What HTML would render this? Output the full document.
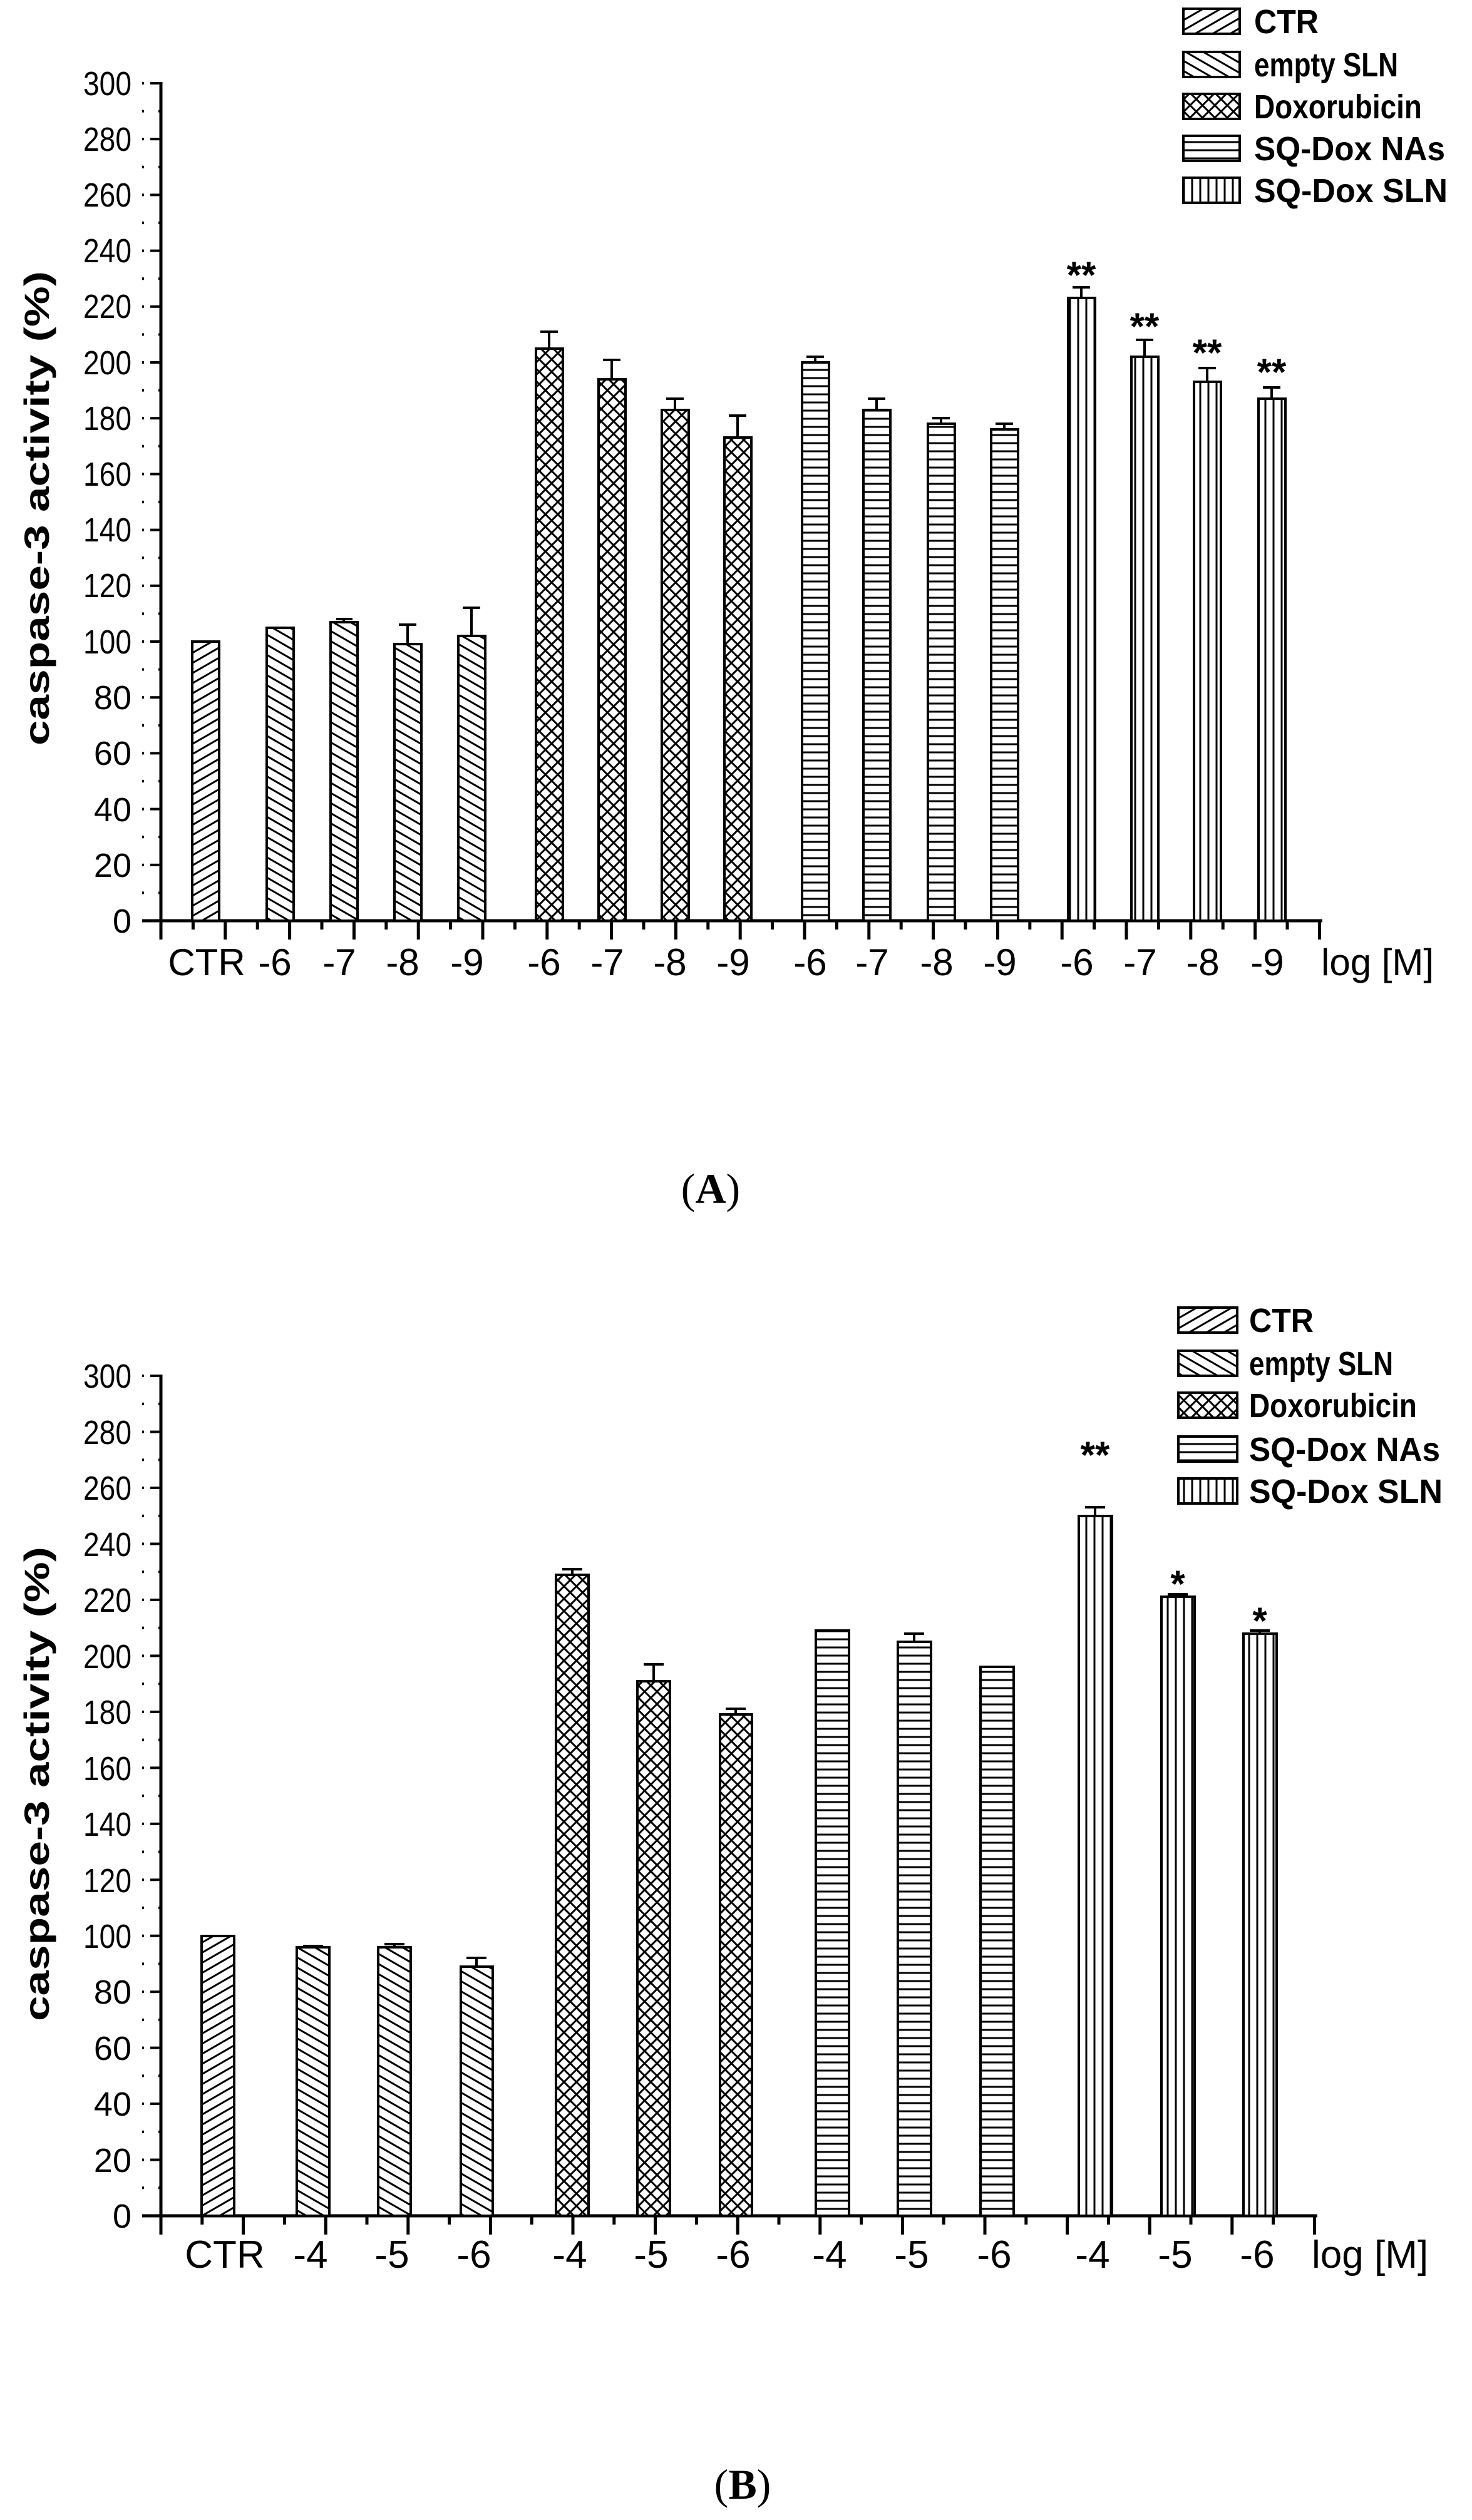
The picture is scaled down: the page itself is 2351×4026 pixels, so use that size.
<!DOCTYPE html>
<html><head><meta charset="utf-8"><style>html,body{margin:0;padding:0;background:#fff}svg{display:block}</style></head>
<body>
<svg width="2351" height="4026" viewBox="0 0 2351 4026" xmlns="http://www.w3.org/2000/svg" font-family="Liberation Sans, Arial, sans-serif">
<defs>
<pattern id="p1" patternUnits="userSpaceOnUse" width="14" height="14" patternTransform="rotate(-30)"><rect width="14" height="14" fill="#fff"/><line x1="0" y1="7" x2="14" y2="7" stroke="#000" stroke-width="3"/></pattern>
<pattern id="p2" patternUnits="userSpaceOnUse" width="14" height="14" patternTransform="rotate(30)"><rect width="14" height="14" fill="#fff"/><line x1="0" y1="7" x2="14" y2="7" stroke="#000" stroke-width="3"/></pattern>
<pattern id="p3" patternUnits="userSpaceOnUse" width="14" height="14" patternTransform="rotate(45)"><rect width="14" height="14" fill="#fff"/><line x1="0" y1="7" x2="14" y2="7" stroke="#000" stroke-width="3"/><line x1="7" y1="0" x2="7" y2="14" stroke="#000" stroke-width="3"/></pattern>
<pattern id="p4" patternUnits="userSpaceOnUse" width="14" height="13"><rect width="14" height="13" fill="#fff"/><line x1="0" y1="6" x2="14" y2="6" stroke="#000" stroke-width="3"/></pattern>
<pattern id="p5" patternUnits="userSpaceOnUse" width="13" height="14"><rect width="13" height="14" fill="#fff"/><line x1="6" y1="0" x2="6" y2="14" stroke="#000" stroke-width="3"/></pattern>
<pattern id="yA" patternUnits="userSpaceOnUse" x="0" y="1471" width="40" height="89.2"><line x1="0" y1="0" x2="30" y2="0" stroke="#000" stroke-width="4"/><line x1="13" y1="44.6" x2="30" y2="44.6" stroke="#000" stroke-width="4"/><line x1="0" y1="89.2" x2="30" y2="89.2" stroke="#000" stroke-width="4"/></pattern>
<pattern id="yB" patternUnits="userSpaceOnUse" x="0" y="3540" width="40" height="89.46"><line x1="0" y1="0" x2="30" y2="0" stroke="#000" stroke-width="4"/><line x1="13" y1="44.73" x2="30" y2="44.73" stroke="#000" stroke-width="4"/><line x1="0" y1="89.46" x2="30" y2="89.46" stroke="#000" stroke-width="4"/></pattern>
<pattern id="xA" patternUnits="userSpaceOnUse" x="257" y="0" width="102.8" height="40"><line x1="0" y1="0" x2="0" y2="30" stroke="#000" stroke-width="5"/><line x1="51.4" y1="0" x2="51.4" y2="14" stroke="#000" stroke-width="5"/><line x1="102.8" y1="0" x2="102.8" y2="30" stroke="#000" stroke-width="5"/></pattern>
<pattern id="xB" patternUnits="userSpaceOnUse" x="257" y="0" width="131.6" height="40"><line x1="0" y1="0" x2="0" y2="30" stroke="#000" stroke-width="5"/><line x1="65.8" y1="0" x2="65.8" y2="14" stroke="#000" stroke-width="5"/><line x1="131.6" y1="0" x2="131.6" y2="30" stroke="#000" stroke-width="5"/></pattern>
</defs>

<!-- ===== CHART A ===== -->
<rect x="227" y="131" width="30" height="1342" fill="url(#yA)"/>
<g transform="translate(0,1471)"><rect x="254" y="0" width="1858" height="32" fill="url(#xA)"/></g>
<line x1="257" y1="131" x2="257" y2="1474" stroke="#000" stroke-width="5"/>
<line x1="227" y1="1471" x2="2112" y2="1471" stroke="#000" stroke-width="5"/>
<g font-size="54" text-anchor="end">
<text x="210" y="1490">0</text><text x="210" y="1401">20</text><text x="210" y="1312">40</text><text x="210" y="1222">60</text><text x="210" y="1133">80</text>
<text x="210" y="1044" textLength="77" lengthAdjust="spacingAndGlyphs">100</text><text x="210" y="954" textLength="77" lengthAdjust="spacingAndGlyphs">120</text><text x="210" y="865" textLength="77" lengthAdjust="spacingAndGlyphs">140</text><text x="210" y="776" textLength="77" lengthAdjust="spacingAndGlyphs">160</text><text x="210" y="687" textLength="77" lengthAdjust="spacingAndGlyphs">180</text><text x="210" y="598" textLength="77" lengthAdjust="spacingAndGlyphs">200</text><text x="210" y="508" textLength="77" lengthAdjust="spacingAndGlyphs">220</text><text x="210" y="419" textLength="77" lengthAdjust="spacingAndGlyphs">240</text><text x="210" y="330" textLength="77" lengthAdjust="spacingAndGlyphs">260</text><text x="210" y="241" textLength="77" lengthAdjust="spacingAndGlyphs">280</text><text x="210" y="152" textLength="77" lengthAdjust="spacingAndGlyphs">300</text>
</g>
<text transform="translate(78,812) rotate(-90)" font-size="56" font-weight="bold" text-anchor="middle" textLength="758" lengthAdjust="spacingAndGlyphs">caspase-3 activity (%)</text>
<g stroke="#000" stroke-width="4">
<rect x="307" y="1025" width="43" height="446" fill="url(#p1)"/>
<rect x="426" y="1003" width="43" height="468" fill="url(#p2)"/>
<rect x="528" y="994" width="43" height="477" fill="url(#p2)"/>
<rect x="630" y="1029" width="43" height="442" fill="url(#p2)"/>
<rect x="732" y="1016" width="43" height="455" fill="url(#p2)"/>
<rect x="856" y="557" width="43" height="914" fill="url(#p3)"/>
<rect x="956" y="606" width="43" height="865" fill="url(#p3)"/>
<rect x="1057" y="655" width="43" height="816" fill="url(#p3)"/>
<rect x="1157" y="699" width="43" height="772" fill="url(#p3)"/>
<rect x="1281" y="579" width="43" height="892" fill="url(#p4)"/>
<rect x="1379" y="655" width="43" height="816" fill="url(#p4)"/>
<rect x="1482" y="677" width="43" height="794" fill="url(#p4)"/>
<rect x="1583" y="686" width="43" height="785" fill="url(#p4)"/>
<rect x="1706" y="476" width="43" height="995" fill="url(#p5)"/>
<rect x="1807" y="570" width="43" height="901" fill="url(#p5)"/>
<rect x="1907" y="610" width="43" height="861" fill="url(#p5)"/>
<rect x="2010" y="637" width="43" height="834" fill="url(#p5)"/>
<path fill="none" d="M549 994V989M537 989H563
M651 1029V998M637 998H665
M753 1016V971M739 971H767
M877 557V530M863 530H891
M977 606V575M963 575H991
M1078 655V637M1064 637H1092
M1178 699V664M1164 664H1192
M1302 579V570M1288 570H1316
M1400 655V637M1386 637H1414
M1503 677V668M1489 668H1517
M1604 686V677M1590 677H1618
M1727 476V459M1713 459H1741
M1828 570V543M1814 543H1842
M1928 610V588M1914 588H1942
M2031 637V619M2017 619H2045"/>
</g>
<g font-size="60" font-weight="bold" text-anchor="middle">
<text x="1727" y="460">**</text><text x="1828" y="542">**</text><text x="1928" y="584">**</text><text x="2031" y="615">**</text>
</g>
<g font-size="60" text-anchor="middle">
<text x="330" y="1558">CTR</text><text x="439" y="1558">-6</text><text x="542" y="1558">-7</text><text x="643" y="1558">-8</text><text x="746" y="1558">-9</text>
<text x="869" y="1558">-6</text><text x="970" y="1558">-7</text><text x="1070" y="1558">-8</text><text x="1171" y="1558">-9</text>
<text x="1294" y="1558">-6</text><text x="1393" y="1558">-7</text><text x="1496" y="1558">-8</text><text x="1597" y="1558">-9</text>
<text x="1720" y="1558">-6</text><text x="1821" y="1558">-7</text><text x="1921" y="1558">-8</text><text x="2024" y="1558">-9</text>
</g>
<text x="2110" y="1558" font-size="60">log [M]</text>
<g stroke="#000" stroke-width="4">
<rect x="1890" y="14" width="90" height="40" fill="url(#p1)"/>
<rect x="1890" y="83" width="90" height="40" fill="url(#p2)"/>
<rect x="1890" y="150" width="90" height="40" fill="url(#p3)"/>
<rect x="1890" y="217" width="90" height="40" fill="url(#p4)"/>
<rect x="1890" y="284" width="90" height="40" fill="url(#p5)"/>
</g>
<g font-size="54" font-weight="bold">
<text x="2003" y="53" textLength="103" lengthAdjust="spacingAndGlyphs">CTR</text>
<text x="2003" y="122" textLength="230" lengthAdjust="spacingAndGlyphs">empty SLN</text>
<text x="2003" y="189" textLength="268" lengthAdjust="spacingAndGlyphs">Doxorubicin</text>
<text x="2003" y="256" textLength="305" lengthAdjust="spacingAndGlyphs">SQ-Dox NAs</text>
<text x="2003" y="323" textLength="309" lengthAdjust="spacingAndGlyphs">SQ-Dox SLN</text>
</g>
<text x="1135" y="1922" font-size="68" font-family="Liberation Serif, serif" text-anchor="middle">(<tspan font-weight="bold">A</tspan>)</text>

<!-- ===== CHART B ===== -->
<rect x="227" y="2196" width="30" height="1346" fill="url(#yB)"/>
<g transform="translate(0,3540)"><rect x="254" y="0" width="1850" height="32" fill="url(#xB)"/></g>
<line x1="257" y1="2196" x2="257" y2="3543" stroke="#000" stroke-width="5"/>
<line x1="227" y1="3540" x2="2104" y2="3540" stroke="#000" stroke-width="5"/>
<g font-size="54" text-anchor="end">
<text x="210" y="3559">0</text><text x="210" y="3470">20</text><text x="210" y="3380">40</text><text x="210" y="3291">60</text><text x="210" y="3201">80</text>
<text x="210" y="3112" textLength="77" lengthAdjust="spacingAndGlyphs">100</text><text x="210" y="3023" textLength="77" lengthAdjust="spacingAndGlyphs">120</text><text x="210" y="2933" textLength="77" lengthAdjust="spacingAndGlyphs">140</text><text x="210" y="2844" textLength="77" lengthAdjust="spacingAndGlyphs">160</text><text x="210" y="2754" textLength="77" lengthAdjust="spacingAndGlyphs">180</text><text x="210" y="2665" textLength="77" lengthAdjust="spacingAndGlyphs">200</text><text x="210" y="2575" textLength="77" lengthAdjust="spacingAndGlyphs">220</text><text x="210" y="2486" textLength="77" lengthAdjust="spacingAndGlyphs">240</text><text x="210" y="2396" textLength="77" lengthAdjust="spacingAndGlyphs">260</text><text x="210" y="2307" textLength="77" lengthAdjust="spacingAndGlyphs">280</text><text x="210" y="2217" textLength="77" lengthAdjust="spacingAndGlyphs">300</text>
</g>
<text transform="translate(78,2850) rotate(-90)" font-size="56" font-weight="bold" text-anchor="middle" textLength="758" lengthAdjust="spacingAndGlyphs">caspase-3 activity (%)</text>
<g stroke="#000" stroke-width="4">
<rect x="322" y="3093" width="52" height="447" fill="url(#p1)"/>
<rect x="474" y="3111" width="52" height="429" fill="url(#p2)"/>
<rect x="604" y="3111" width="52" height="429" fill="url(#p2)"/>
<rect x="736" y="3142" width="51" height="398" fill="url(#p2)"/>
<rect x="888" y="2516" width="52" height="1024" fill="url(#p3)"/>
<rect x="1018" y="2686" width="52" height="854" fill="url(#p3)"/>
<rect x="1150" y="2739" width="51" height="801" fill="url(#p3)"/>
<rect x="1303" y="2605" width="53" height="935" fill="url(#p4)"/>
<rect x="1434" y="2623" width="53" height="917" fill="url(#p4)"/>
<rect x="1566" y="2663" width="53" height="877" fill="url(#p4)"/>
<rect x="1723" y="2422" width="53" height="1118" fill="url(#p5)"/>
<rect x="1855" y="2551" width="53" height="989" fill="url(#p5)"/>
<rect x="1986" y="2610" width="53" height="930" fill="url(#p5)"/>
<path fill="none" d="M500 3111V3109M484 3109H516
M630 3111V3106M614 3106H646
M761 3142V3128M745 3128H777
M914 2516V2507M898 2507H930
M1044 2686V2659M1028 2659H1060
M1175 2739V2730M1159 2730H1191
M1460 2623V2610M1444 2610H1476
M1749 2422V2408M1733 2408H1765
M1881 2551V2547M1865 2547H1897
M2012 2610V2605M1996 2605H2028"/>
</g>
<g font-size="60" font-weight="bold" text-anchor="middle">
<text x="1749" y="2345">**</text><text x="1881" y="2551">*</text><text x="2012" y="2610">*</text>
</g>
<g font-size="62" text-anchor="middle">
<text x="359" y="3623">CTR</text><text x="496" y="3623">-4</text><text x="626" y="3623">-5</text><text x="757" y="3623">-6</text>
<text x="910" y="3623">-4</text><text x="1040" y="3623">-5</text><text x="1171" y="3623">-6</text>
<text x="1325" y="3623">-4</text><text x="1456" y="3623">-5</text><text x="1588" y="3623">-6</text>
<text x="1745" y="3623">-4</text><text x="1877" y="3623">-5</text><text x="2008" y="3623">-6</text>
</g>
<text x="2095" y="3623" font-size="62">log [M]</text>
<g stroke="#000" stroke-width="4">
<rect x="1882" y="2089" width="94" height="40" fill="url(#p1)"/>
<rect x="1882" y="2158" width="94" height="40" fill="url(#p2)"/>
<rect x="1882" y="2225" width="94" height="40" fill="url(#p3)"/>
<rect x="1882" y="2295" width="94" height="40" fill="url(#p4)"/>
<rect x="1882" y="2362" width="94" height="40" fill="url(#p5)"/>
</g>
<g font-size="54" font-weight="bold">
<text x="1995" y="2128" textLength="103" lengthAdjust="spacingAndGlyphs">CTR</text>
<text x="1995" y="2197" textLength="230" lengthAdjust="spacingAndGlyphs">empty SLN</text>
<text x="1995" y="2264" textLength="268" lengthAdjust="spacingAndGlyphs">Doxorubicin</text>
<text x="1995" y="2334" textLength="305" lengthAdjust="spacingAndGlyphs">SQ-Dox NAs</text>
<text x="1995" y="2401" textLength="309" lengthAdjust="spacingAndGlyphs">SQ-Dox SLN</text>
</g>
<text x="1186" y="3992" font-size="68" font-family="Liberation Serif, serif" text-anchor="middle">(<tspan font-weight="bold">B</tspan>)</text>
</svg>
</body></html>
